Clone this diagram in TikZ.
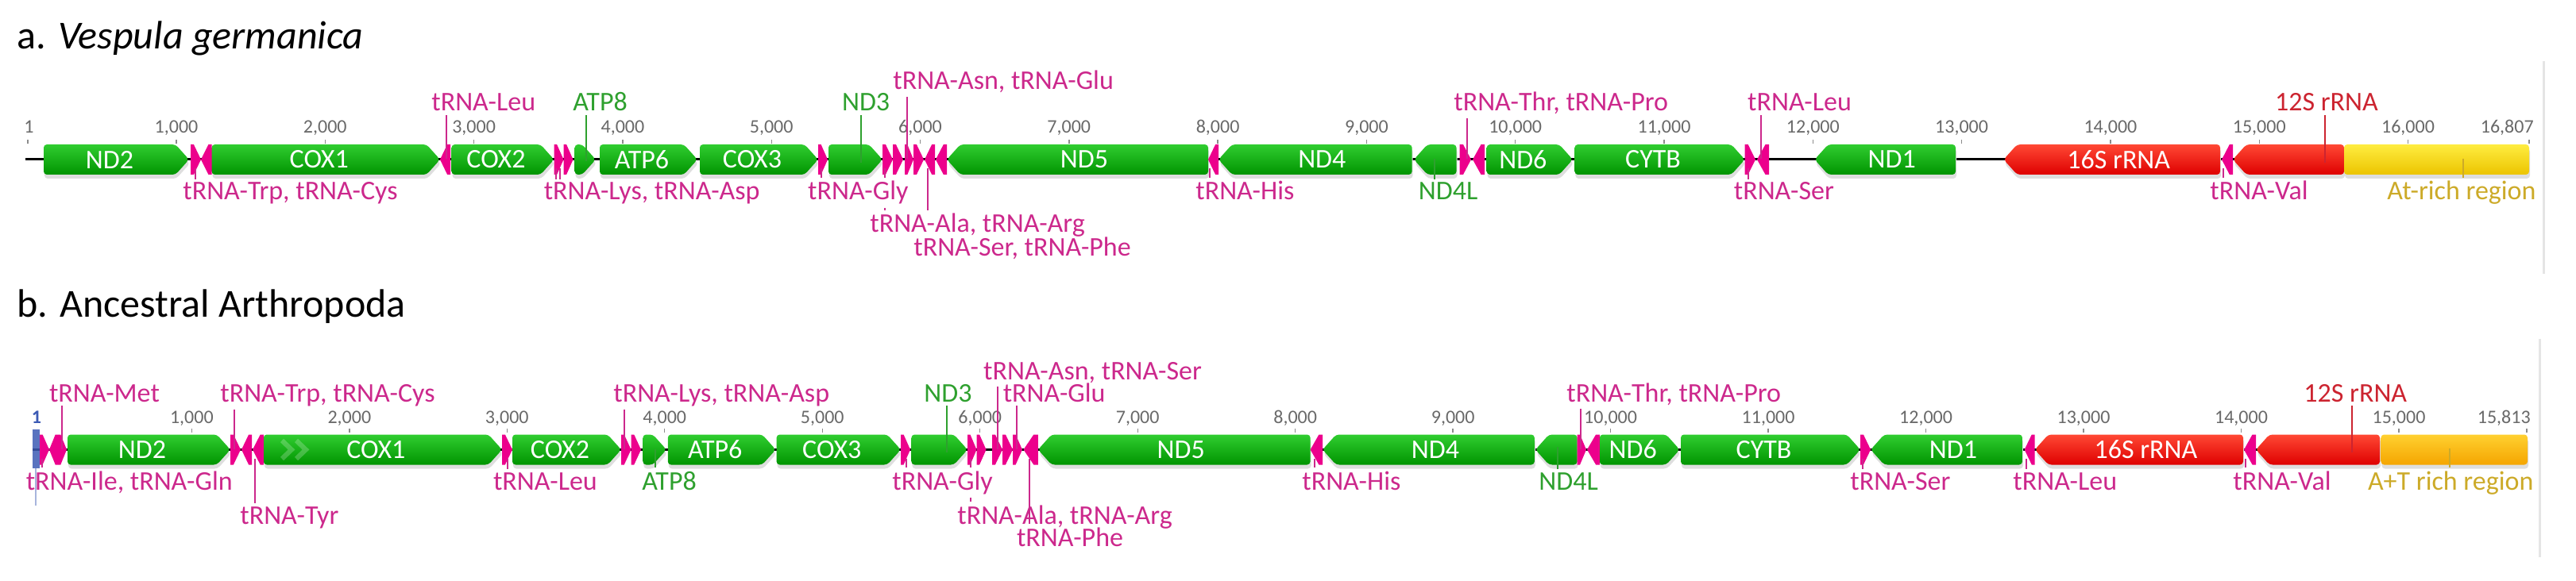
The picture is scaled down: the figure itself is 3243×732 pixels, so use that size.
\documentclass[tikz,border=0pt]{standalone}
\usepackage{fontspec}
\setmainfont{Carlito}

\definecolor{gtop}{RGB}{48,205,48}
\definecolor{gbot}{RGB}{0,148,0}
\definecolor{rtop}{RGB}{255,72,52}
\definecolor{rbot}{RGB}{222,0,0}
\definecolor{ytop}{RGB}{255,236,64}
\definecolor{ybot}{RGB}{236,196,0}
\definecolor{otop}{RGB}{255,208,48}
\definecolor{obot}{RGB}{245,165,0}
\definecolor{trnafill}{RGB}{236,0,140}
\definecolor{tcol}{RGB}{204,40,140}
\definecolor{gcol}{RGB}{46,160,46}
\definecolor{rcol}{RGB}{204,36,48}
\definecolor{acol}{RGB}{204,170,40}
\definecolor{tickgray}{RGB}{105,105,105}
\definecolor{cursor}{RGB}{60,90,180}

\tikzset{
  gene/.style={top color=gtop, bottom color=gbot, rounded corners=2pt},
  rrna/.style={top color=rtop, bottom color=rbot, rounded corners=2pt},
  gshade/.style={fill=black!13, rounded corners=2pt},
  trna/.style={fill=trnafill},
  backbone/.style={line width=1.5pt, black},
  tickmk/.style={line width=0.7pt, black!45},
  ticklbl/.style={font=\fontsize{12}{14}\selectfont, text=tickgray, anchor=base, inner sep=0pt},
  gname/.style={font=\fontsize{17}{20}\selectfont, text=white, inner sep=0pt},
  lab/.style={font=\fontsize{17}{20}\selectfont, anchor=base west, inner xsep=0pt, inner ysep=2pt},
  tlab/.style={lab, text=tcol},
  glab/.style={lab, text=gcol},
  rlab/.style={lab, text=rcol},
  alab/.style={lab, text=acol},
  tline/.style={line width=1pt, tcol},
  gline/.style={line width=1pt, gcol},
  rline/.style={line width=1pt, rcol},
  aline/.style={line width=1pt, acol},
  panel/.style={line width=1.5pt, black!10},
  chev/.style={line width=3pt, white, opacity=0.22},
  ttl/.style={font=\fontsize{25}{30}\selectfont, anchor=base west, inner sep=0pt}
}

\newcommand{\genefwd}[4]{%
  \fill[gshade, shift={(1,5)}] (#2,#4-19) -- (#3-17,#4-19) -- (#3,#4) -- (#3-17,#4+19) -- (#2,#4+19) -- cycle;
  \shade[#1] (#2,#4-19) -- (#3-17,#4-19) -- (#3,#4) -- (#3-17,#4+19) -- (#2,#4+19) -- cycle;
}
\newcommand{\generev}[4]{%
  \fill[gshade, shift={(1,5)}] (#2,#4) -- (#2+17,#4-19) -- (#3,#4-19) -- (#3,#4+19) -- (#2+17,#4+19) -- cycle;
  \shade[#1] (#2,#4) -- (#2+17,#4-19) -- (#3,#4-19) -- (#3,#4+19) -- (#2+17,#4+19) -- cycle;
}
\newcommand{\trnafwd}[3]{\fill[trna] (#1,#3-19) -- ({#1+0.3*(#2-#1)},#3-19) -- (#2,#3) -- ({#1+0.3*(#2-#1)},#3+19) -- (#1,#3+19) -- cycle;}
\newcommand{\trnarev}[3]{\fill[trna] (#2,#3-19) -- ({#2-0.3*(#2-#1)},#3-19) -- (#1,#3) -- ({#2-0.3*(#2-#1)},#3+19) -- (#2,#3+19) -- cycle;}

\begin{document}
\begin{tikzpicture}[x=0.5pt, y=-0.5pt]
        \useasboundingbox (0,0) rectangle (3243,732);

        % a. Vespula germanica
        \node (titleA) at (21,62) [ttl] {a. \textit{Vespula germanica}};
        \coordinate (aStart) at (32,201);
        \coordinate (aEnd) at (3184,201);
        \draw[backbone] (aStart) -- (aEnd);

        \foreach \k in {1,...,16} {
          \draw[tickmk] ({34.7+187.3*\k},176) -- ++(0,5);
          \node (aT\k) at ({34.7+187.3*\k},168) [ticklbl] {\k,000};
        }
        \draw[tickmk] (35,176) -- ++(0,5);
        \node (aT0) at (36.5,168) [ticklbl] {1};
        \draw[tickmk] (3184,176) -- ++(0,5);
        \node (aTend) at (3190,168) [ticklbl, anchor=base east] {16,807};

        \foreach \xa/\xb/\nm/\gn in {55/238/aND2/ND2, 266.5/554/aCOX1/COX1, 568.5/697.5/aCOX2/COX2,
            755/878/aATP6/ATP6, 881/1030/aCOX3/COX3, 1871.7/1980/aND6/ND6, 1982.4/2196.6/aCYTB/CYTB} {
          \genefwd{gene}{\xa}{\xb}{201}
          \node (\nm) at ({(\xa+\xb-17)/2},201) [gname] {\gn};
        }
        \genefwd{gene}{723.6}{750}{201}
        \genefwd{gene}{1043}{1111}{201}
        \foreach \xa/\xb/\nm/\gn in {1192/1521/aND5/ND5, 1534/1777.6/aND4/ND4, 2284.5/2462/aND1/ND1} {
          \generev{gene}{\xa}{\xb}{201}
          \node (\nm) at ({(\xa+\xb+17)/2},201) [gname] {\gn};
        }
        \generev{gene}{1780}{1833.5}{201}
        \generev{rrna}{2522.4}{2795}{201}
        \node (a16S) at ({(2522.4+2795+17)/2},201) [gname] {16S rRNA};
        \generev{rrna}{2811}{2951}{201}
        \fill[gshade, shift={(1,5)}] (2951,182) rectangle (3184,220);
        \shade[top color=ytop, bottom color=ybot, rounded corners=2pt] (2951,182) rectangle (3184,220);

        \trnafwd{240}{253}{201} \trnarev{253}{266.5}{201}
        \trnarev{554}{567}{201}
        \trnafwd{697.5}{709.5}{201} \trnafwd{709.5}{721.5}{201}
        \trnafwd{1030}{1042}{201}
        \trnafwd{1111}{1124}{201} \trnafwd{1124}{1137}{201} \trnafwd{1139}{1150}{201}
        \trnafwd{1150}{1163}{201} \trnarev{1164}{1177}{201} \trnarev{1178}{1192}{201}
        \trnarev{1521}{1534}{201}
        \trnafwd{1837.7}{1852}{201} \trnarev{1854}{1869}{201}
        \trnafwd{2196.6}{2210}{201} \trnarev{2212}{2227}{201}
        \trnarev{2797}{2811}{201}

        \coordinate (aTrp) at (245.5,212);
        \node (aTrpL) at (230,252) [tlab] {tRNA-Trp, tRNA-Cys};
        \draw[tline] (aTrp) -- (aTrp |- aTrpL.north);
        \coordinate (aLeu) at (561.7,200);
        \node (aLeuL) at (543,140) [tlab] {tRNA-Leu};
        \draw[tline] (aLeu) -- (aLeu |- aLeuL.south);
        \coordinate (aLys) at (700,212);
        \coordinate (aAsp) at (705.4,212);
        \node (aLysL) at (684.4,252) [tlab] {tRNA-Lys, tRNA-Asp};
        \draw[tline] (aLys) -- (aLys |- aLysL.north);
        \draw[tline] (aAsp) -- (aAsp |- aLysL.north);
        \coordinate (aATP8) at (737.7,203);
        \node (aATP8L) at (721,140) [glab] {ATP8};
        \draw[gline] (aATP8) -- (aATP8 |- aATP8L.south);
        \coordinate (aGly) at (1033.5,212);
        \node (aGlyL) at (1016.8,252) [tlab] {tRNA-Gly};
        \draw[tline] (aGly) -- (aGly |- aGlyL.north);
        \coordinate (aND3) at (1083.7,205);
        \node (aND3L) at (1059.7,140) [glab] {ND3};
        \draw[gline] (aND3) -- (aND3 |- aND3L.south);
        \coordinate (aAsn) at (1142,200);
        \node (aAsnL) at (1124,113) [tlab] {tRNA-Asn, tRNA-Glu};
        \draw[tline] (aAsn) -- (aAsn |- aAsnL.south);
        \coordinate (aAla) at (1113.5,212);
        \node (aAlaL) at (1095,293) [tlab] {tRNA-Ala, tRNA-Arg};
        \draw[tline] (aAla) -- (aAla |- aGlyL.north) (aAla |- aGlyL.south) -- (aAla |- aAlaL.north);
        \coordinate (aSer) at (1168,212);
        \node (aSerL) at (1150,323) [tlab] {tRNA-Ser, tRNA-Phe};
        \draw[tline] (aSer) -- (aSer |- aAlaL.north);
        \coordinate (aHis) at (1522.6,212);
        \node (aHisL) at (1505,252) [tlab] {tRNA-His};
        \draw[tline] (aHis) -- (aHis |- aHisL.north);
        \coordinate (aND4L) at (1806,200);
        \node (aND4LL) at (1785.5,252) [glab] {ND4L};
        \draw[gline] (aND4L) -- (aND4L |- aND4LL.north);
        \coordinate (aThr) at (1847,200);
        \node (aThrL) at (1830,140) [tlab] {tRNA-Thr, tRNA-Pro};
        \draw[tline] (aThr) -- (aThr |- aThrL.south);
        \coordinate (aSer2) at (2200.8,212);
        \node (aSer2L) at (2182.5,252) [tlab] {tRNA-Ser};
        \draw[tline] (aSer2) -- (aSer2 |- aSer2L.north);
        \coordinate (aLeu2) at (2216.5,200);
        \node (aLeu2L) at (2199.8,140) [tlab] {tRNA-Leu};
        \draw[tline] (aLeu2) -- (aLeu2 |- aLeu2L.south);
        \coordinate (aVal) at (2799,212);
        \node (aValL) at (2782,252) [tlab] {tRNA-Val};
        \draw[tline] (aVal) -- (aVal |- aValL.north);
        \coordinate (a12S) at (2926.5,205);
        \node (a12SL) at (2863.6,140) [rlab] {12S rRNA};
        \draw[rline] (a12S) -- (a12S |- a12SL.south);
        \coordinate (aAt) at (3101,200);
        \node (aAtL) at (3005,252) [alab] {At-rich region};
        \draw[aline] (aAt) -- (aAt |- aAtL.north);

        \coordinate (aEdgeT) at (3202,77);
        \coordinate (aEdgeB) at (3202,345);
        \draw[panel] (aEdgeT) -- (aEdgeB);

        % b. Ancestral Arthropoda
        \node (titleB) at (21,400) [ttl] {b. Ancestral Arthropoda};
        \coordinate (bStart) at (41,566.5);
        \coordinate (bEnd) at (3182,566.5);
        \draw[backbone] (bStart) -- (bEnd);

        \foreach \k in {1,...,15} {
          \draw[tickmk] ({42.9+198.47*\k},540) -- ++(0,5);
          \node (bT\k) at ({42.9+198.47*\k},533) [ticklbl] {\k,000};
        }
        \draw[tickmk] (3181,540) -- ++(0,5);
        \node (bTend) at (3186,533) [ticklbl, anchor=base east] {15,813};

        \foreach \xa/\xb/\nm/\gn in {85/290/bND2/ND2, 331.8/632/bCOX1/COX1, 645/782/bCOX2/COX2,
            840.8/976.6/bATP6/ATP6, 977.6/1134/bCOX3/COX3, 2013.8/2114.6/bND6/ND6, 2116/2342/bCYTB/CYTB} {
          \genefwd{gene}{\xa}{\xb}{566.5}
          \node (\nm) at ({(\xa+\xb-17)/2},566.5) [gname] {\gn};
        }
        \genefwd{gene}{809.4}{839}{566.5}
        \genefwd{gene}{1147.4}{1218}{566.5}
        \draw[chev] (355,555) -- (367,566.5) -- (355,578) (373,555) -- (385,566.5) -- (373,578);
        \foreach \xa/\xb/\nm/\gn in {1306.8/1649.6/bND5/ND5, 1665/1931.8/bND4/ND4, 2355/2546/bND1/ND1} {
          \generev{gene}{\xa}{\xb}{566.5}
          \node (\nm) at ({(\xa+\xb+17)/2},566.5) [gname] {\gn};
        }
        \generev{gene}{1933}{1985.6}{566.5}
        \generev{rrna}{2561.7}{2824}{566.5}
        \node (b16S) at ({(2561.7+2824+17)/2},566.5) [gname] {16S rRNA};
        \generev{rrna}{2840}{2996}{566.5}
        \fill[gshade, shift={(1,5)}] (2997.4,547.5) rectangle (3182,585.5);
        \shade[top color=otop, bottom color=obot, rounded corners=2pt] (2997.4,547.5) rectangle (3182,585.5);

        \trnafwd{50}{62}{566.5} \trnarev{62}{73}{566.5} \trnafwd{73}{84}{566.5}
        \trnafwd{290}{303}{566.5} \trnarev{304}{317}{566.5} \trnarev{318}{331.8}{566.5}
        \trnafwd{632}{645}{566.5}
        \trnafwd{782}{794.5}{566.5} \trnafwd{794.5}{807}{566.5}
        \trnafwd{1134}{1146}{566.5}
        \trnafwd{1218}{1229.5}{566.5} \trnafwd{1229.5}{1241.5}{566.5} \trnafwd{1249}{1262}{566.5}
        \trnafwd{1262}{1275}{566.5} \trnafwd{1275}{1287}{566.5} \trnarev{1288.5}{1306.8}{566.5}
        \trnarev{1649.6}{1665}{566.5}
        \trnafwd{1985.6}{1997}{566.5} \trnarev{1998}{2013.8}{566.5}
        \trnafwd{2342}{2355}{566.5}
        \trnarev{2548.6}{2561.7}{566.5}
        \trnarev{2825}{2840}{566.5}

        \fill[cursor, opacity=0.85] (40.7,541) rectangle (49.6,590);
        \draw[cursor!45, line width=1pt] (45,590) -- (45,637);
        \node (bT0) at (46,533) [ticklbl, text=cursor, font=\fontsize{12}{14}\selectfont\bfseries] {1};

        \coordinate (bMet) at (78.4,566);
        \node (bMetL) at (61.6,506) [tlab] {tRNA-Met};
        \draw[tline] (bMet) -- (bMet |- bMetL.south);
        \coordinate (bIle) at (53,578);
        \node (bIleL) at (32.4,617) [tlab] {tRNA-Ile, tRNA-Gln};
        \draw[tline] (bIle) -- (bIle |- bIleL.north);
        \coordinate (bTrp) at (295,566);
        \node (bTrpL) at (277,506) [tlab] {tRNA-Trp, tRNA-Cys};
        \draw[tline] (bTrp) -- (bTrp |- bTrpL.south);
        \coordinate (bTyr) at (321,578);
        \node (bTyrL) at (302,660) [tlab] {tRNA-Tyr};
        \draw[tline] (bTyr) -- (bTyr |- bTyrL.north);
        \coordinate (bLeu) at (638.5,578);
        \node (bLeuL) at (620.7,617) [tlab] {tRNA-Leu};
        \draw[tline] (bLeu) -- (bLeu |- bLeuL.north);
        \coordinate (bLys) at (786,566);
        \node (bLysL) at (772,506) [tlab] {tRNA-Lys, tRNA-Asp};
        \draw[tline] (bLys) -- (bLys |- bLysL.south);
        \coordinate (bATP8) at (825,566);
        \node (bATP8L) at (808,617) [glab] {ATP8};
        \draw[gline] (bATP8) -- (bATP8 |- bATP8L.north);
        \coordinate (bGly) at (1140.6,578);
        \node (bGlyL) at (1123,617) [tlab] {tRNA-Gly};
        \draw[tline] (bGly) -- (bGly |- bGlyL.north);
        \coordinate (bND3) at (1191.8,570);
        \node (bND3L) at (1163,506) [glab] {ND3};
        \draw[gline] (bND3) -- (bND3 |- bND3L.south);
        \coordinate (bAla) at (1222,578);
        \node (bAlaL) at (1205,660) [tlab] {tRNA-Ala, tRNA-Arg};
        \draw[tline] (bAla) -- (bAla |- bGlyL.north) (bAla |- bGlyL.south) -- (bAla |- bAlaL.north);
        \coordinate (bAsn) at (1255.6,566);
        \node (bAsnL) at (1237.8,478) [tlab] {tRNA-Asn, tRNA-Ser};
        \draw[tline] (bAsn) -- (bAsn |- bAsnL.south);
        \coordinate (bGlu) at (1279.6,566);
        \node (bGluL) at (1262.4,506) [tlab] {tRNA-Glu};
        \draw[tline] (bGlu) -- (bGlu |- bGluL.south);
        \coordinate (bPhe) at (1296,578);
        \node (bPheL) at (1279.6,688) [tlab] {tRNA-Phe};
        \draw[tline] (bPhe) -- (bPhe |- bPheL.north);
        \coordinate (bHis) at (1655,578);
        \node (bHisL) at (1639,617) [tlab] {tRNA-His};
        \draw[tline] (bHis) -- (bHis |- bHisL.north);
        \coordinate (bND4L) at (1960.5,563);
        \node (bND4LL) at (1937,617) [glab] {ND4L};
        \draw[gline] (bND4L) -- (bND4L |- bND4LL.north);
        \coordinate (bThr) at (1990,566);
        \node (bThrL) at (1972,506) [tlab] {tRNA-Thr, tRNA-Pro};
        \draw[tline] (bThr) -- (bThr |- bThrL.south);
        \coordinate (bSer) at (2344.5,578);
        \node (bSerL) at (2329,617) [tlab] {tRNA-Ser};
        \draw[tline] (bSer) -- (bSer |- bSerL.north);
        \coordinate (bLeu2) at (2551,578);
        \node (bLeu2L) at (2534,617) [tlab] {tRNA-Leu};
        \draw[tline] (bLeu2) -- (bLeu2 |- bLeu2L.north);
        \coordinate (bVal) at (2826.8,578);
        \node (bValL) at (2811,617) [tlab] {tRNA-Val};
        \draw[tline] (bVal) -- (bVal |- bValL.north);
        \coordinate (b12S) at (2960.7,570);
        \node (b12SL) at (2900,506) [rlab] {12S rRNA};
        \draw[rline] (b12S) -- (b12S |- b12SL.south);
        \coordinate (bAT) at (3084,565);
        \node (bATL) at (2980.6,617) [alab] {A+T rich region};
        \draw[aline] (bAT) -- (bAT |- bATL.north);

        \coordinate (bEdgeT) at (3197,427);
        \coordinate (bEdgeB) at (3197,702);
        \draw[panel] (bEdgeT) -- (bEdgeB);
\end{tikzpicture}
\end{document}
